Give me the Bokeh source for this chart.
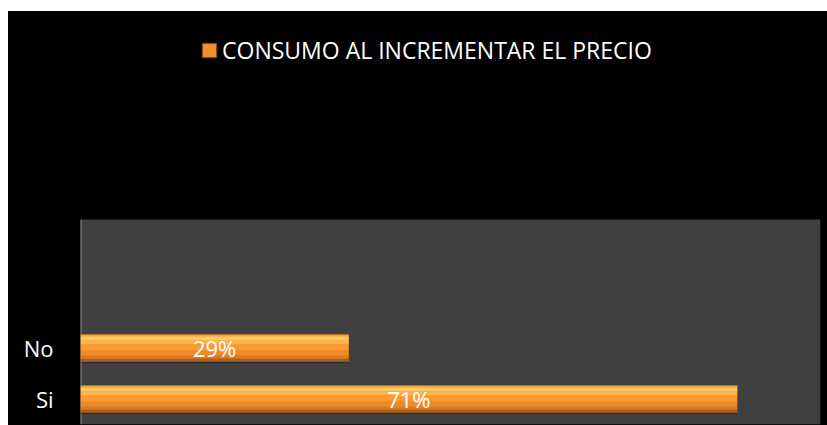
from bokeh.plotting import figure
from bokeh.layouts import column
from bokeh.models import Range1d, FixedTicker, ColumnDataSource, Legend, LegendItem, BoxAnnotation
from bokeh.transform import dodge
from bokeh.core.properties import value
from bokeh.embed import file_html
from bokeh.resources import INLINE

categories = ["Si", "No"]
values = [0.71, 0.29]
labels = ["71%", "29%"]
legend_label = "CONSUMO AL INCREMENTAR EL PRECIO"

ypos = [i + 0.5 for i in range(len(categories))]
src = ColumnDataSource(dict(y=ypos, v=values, mid=[v / 2 for v in values], lab=labels))

FONT = "Open Sans"
AREA_TOP = 4.02
Y_TOP = AREA_TOP * 413 / 205.0
p = figure(width=819, height=414, output_backend="svg", toolbar_location=None,
           x_range=Range1d(0, 0.8), y_range=Range1d(0, Y_TOP),
           min_border_left=72, min_border_right=7, min_border_top=0, min_border_bottom=1,
           background_fill_color="#000000", border_fill_color="#000000",
           outline_line_color=None)
p.margin = 0
p.xaxis.visible = False
p.xgrid.visible = False
p.ygrid.visible = False
p.add_layout(BoxAnnotation(bottom=0, top=AREA_TOP, fill_color="#404040",
                           fill_alpha=1, line_color=None, level="underlay"))
ax = p.yaxis[0]
ax.ticker = FixedTicker(ticks=ypos)
ax.major_label_overrides = {y: c for y, c in zip(ypos, categories)}
ax.major_label_text_color = "#ffffff"
ax.major_label_text_font = FONT
ax.major_label_text_font_size = "22px"
ax.major_label_standoff = 21
ax.major_tick_line_color = None
ax.minor_tick_line_color = None
ax.axis_line_color = None
# axis line only along the grey plot area
p.segment(x0=[0], y0=[0], x1=[0], y1=[AREA_TOP], line_color="#8c8c8c", line_width=2)

H = 0.53
u = H / 27.0
# shadow
p.hbar(y=dodge("y", -2 * u, range=p.y_range), right="v", left=0, height=H,
       source=src, fill_color="#000000", fill_alpha=0.25, line_color=None)
base = p.hbar(y="y", right="v", left=0, height=H, source=src,
              fill_color="#F28E2B", line_color="#7a4510", line_width=1)
strips = [(0, 2, "#F7A23A"), (2, 6, "#FFCC66"), (6, 10, "#FDB24A"),
          (10, 16, "#F99A33"), (16, 21, "#F08A28"), (21, 24, "#D97A24"),
          (24, 27, "#A8601E")]
for a, b, col in strips:
    off = H / 2 - (a + b) / 2 * u
    p.hbar(y=dodge("y", off, range=p.y_range), right="v", left=0,
           height=(b - a) * u, source=src, fill_color=col, line_color=None)

p.text(x="mid", y="y", text="lab", source=src, text_color="#ffffff",
       text_font=value(FONT), text_font_size="22px",
       text_align="center", text_baseline="middle")

leg = Legend(items=[LegendItem(label=legend_label, renderers=[base])],
             location=(120, 358), orientation="horizontal",
             background_fill_alpha=0, border_line_color=None,
             label_text_color="#ffffff", label_text_font=FONT,
             label_text_font_size="23px", glyph_width=18, glyph_height=18,
             label_standoff=4, padding=0, margin=0)
p.add_layout(leg, "center")

layout = column(p, width=819, height=414, margin=(11, 0, 0, 8),
                styles={"background-color": "#000000"})

open("out.html", "w").write(file_html(layout, INLINE))
